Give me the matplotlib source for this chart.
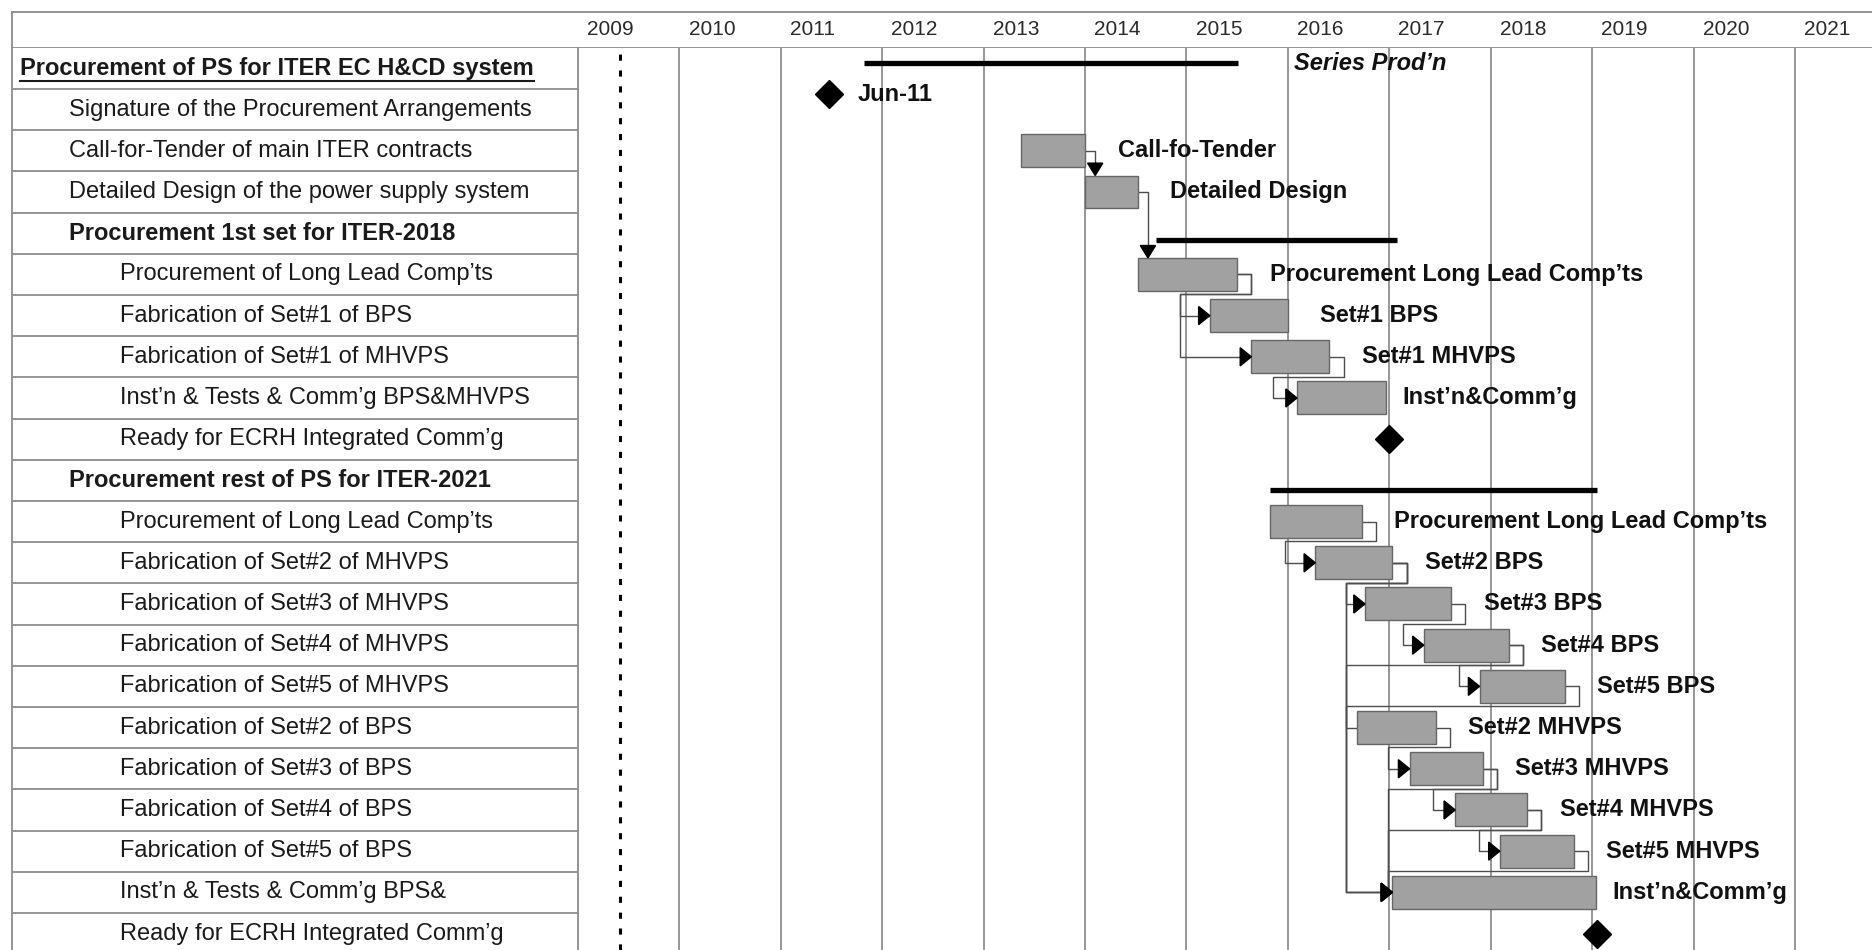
import numpy as np
import matplotlib.pyplot as plt
from matplotlib.patches import Rectangle, Polygon

plt.rcParams['font.family'] = ['Liberation Sans', 'DejaVu Sans']

# ---- data ----
tasks = ["Procurement of PS for ITER EC H&CD system",
         "Signature of the Procurement Arrangements",
         "Call-for-Tender of main ITER contracts",
         "Detailed Design of the power supply system",
         "Procurement 1st set for ITER-2018",
         "Procurement of Long Lead Comp\u2019ts",
         "Fabrication of Set#1 of BPS",
         "Fabrication of Set#1 of MHVPS",
         "Inst\u2019n & Tests & Comm\u2019g BPS&MHVPS",
         "Ready for ECRH Integrated Comm\u2019g",
         "Procurement rest of PS for ITER-2021",
         "Procurement of Long Lead Comp\u2019ts",
         "Fabrication of Set#2 of MHVPS",
         "Fabrication of Set#3 of MHVPS",
         "Fabrication of Set#4 of MHVPS",
         "Fabrication of Set#5 of MHVPS",
         "Fabrication of Set#2 of BPS",
         "Fabrication of Set#3 of BPS",
         "Fabrication of Set#4 of BPS",
         "Fabrication of Set#5 of BPS",
         "Inst\u2019n & Tests & Comm\u2019g BPS&",
         "Ready for ECRH Integrated Comm\u2019g"]
level = [0, 1, 1, 1, 1, 2, 2, 2, 2, 2, 1, 2, 2, 2, 2, 2, 2, 2, 2, 2, 2, 2]
kind = ["sum", "mile", "bar", "bar", "sum", "bar", "bar", "bar", "bar", "mile",
        "sum", "bar", "bar", "bar", "bar", "bar", "bar", "bar", "bar", "bar", "bar", "mile"]
start = [2011.82, 2011.48, 2013.37, 2014.00, 2014.70, 2014.52, 2015.23, 2015.64, 2016.09, 2017.00,
         2015.82, 2015.82, 2016.27, 2016.76, 2017.34, 2017.89, 2016.68, 2017.20, 2017.65, 2018.09,
         2017.03, 2019.05]
finish = [2015.51, 2011.48, 2014.00, 2014.52, 2017.08, 2015.50, 2016.00, 2016.41, 2016.97, 2017.00,
          2019.05, 2016.73, 2017.03, 2017.61, 2018.18, 2018.73, 2017.46, 2017.92, 2018.36, 2018.82,
          2019.04, 2019.05]
bar_text = ["Series Prod\u2019n", "Jun-11", "Call-fo-Tender", "Detailed Design", "",
            "Procurement Long Lead Comp\u2019ts", "Set#1 BPS", "Set#1 MHVPS", "Inst\u2019n&Comm\u2019g", "",
            "", "Procurement Long Lead Comp\u2019ts", "Set#2 BPS", "Set#3 BPS", "Set#4 BPS", "Set#5 BPS",
            "Set#2 MHVPS", "Set#3 MHVPS", "Set#4 MHVPS", "Set#5 MHVPS", "Inst\u2019n&Comm\u2019g", ""]
years = list(range(2009, 2022))
today = 2009.41

# links: (predecessor row, successor row, x of the vertical elbow or None for a drop-down link)
links = [(2, 3, None), (3, 5, None), (5, 6, 2014.94), (5, 7, 2014.94), (7, 8, 2015.85),
         (11, 12, 2015.97), (12, 13, 2016.57), (12, 16, 2016.57), (12, 20, 2016.57),
         (13, 14, 2017.14), (14, 15, 2017.69), (14, 20, 2016.57), (15, 20, 2016.57),
         (16, 17, 2016.99), (17, 18, 2017.43), (18, 19, 2017.88), (17, 20, 2016.99),
         (18, 20, 2016.99), (19, 20, 2016.99)]

# small vertical nudges of some marks inside their row (as drawn in the original)
row_dy = {0: -0.12, 1: -0.37, 4: 0.17, 10: 0.23}

# ---- layout ----
W, H = 1872, 950
fig = plt.figure(figsize=(W / 100, H / 100), dpi=100)
L = 12 / W
D = 578 / W
hb = 1 - 47.8 / H
top = 1 - 12 / H
grey = '#8c8c8c'
ylim = (21.4, -0.5)

ax_head = fig.add_axes([L, hb, 1 - L, top - hb])
ax_head.set_xticks([]); ax_head.set_yticks([])
for s in ['top', 'left', 'bottom']:
    ax_head.spines[s].set_color(grey); ax_head.spines[s].set_linewidth(1.3)
ax_head.spines['right'].set_visible(False)

ax_t = fig.add_axes([L, 0, D - L, hb])
ax_t.set_xlim(0, 1); ax_t.set_ylim(*ylim)
ax_t.set_xticks([]); ax_t.set_yticks([])
for s in ['top', 'right', 'bottom']:
    ax_t.spines[s].set_visible(False)
ax_t.spines['left'].set_color(grey); ax_t.spines['left'].set_linewidth(1.3)

ax = fig.add_axes([D, 0, 1 - D, hb])
ax.set_xlim(2009, 2021.76); ax.set_ylim(*ylim)
ax.set_xticks([]); ax.set_yticks([])
for s in ['top', 'right', 'bottom']:
    ax.spines[s].set_visible(False)
ax.spines['left'].set_color(grey); ax.spines['left'].set_linewidth(1.3)

# table
indent_x = [0.015, 0.101, 0.19]
fs = 17
for i, name in enumerate(tasks):
    ax_t.axhline(i + 0.5, color=grey, lw=1.3)
    is_bold = kind[i] == "sum"
    t = ax_t.text(indent_x[level[i]], i, name, ha='left', va='center', fontsize=fs,
                  fontweight='bold' if is_bold else 'normal', color='#1a1a1a')
    if i == 0:
        fig.canvas.draw()
        bb = t.get_window_extent().transformed(ax_t.transAxes.inverted())
        ax_t.plot([bb.x0, bb.x1], [0.3, 0.3], color='#1a1a1a', lw=1.5)

# header years
for y in years:
    ax.text(y + 0.09, (1 + (top - hb) / 2 / hb), str(y), transform=ax.get_xaxis_transform(),
            ha='left', va='center', fontsize=15, color='#2a2a2a', clip_on=False)

# gridlines
for y in years[1:]:
    ax.axvline(y, color='#7a7a7a', lw=1.1, zorder=1)
ax.axvline(today, color='black', lw=2.2, ls=(0, (2, 3.2)), zorder=2)

bh = 0.8
hook = 0.14
lk = dict(color='#4d4d4d', lw=1.0, zorder=3)


def right_arrow(x, y):
    ax.add_patch(Polygon([[x, y], [x - 0.11, y - 0.22], [x - 0.11, y + 0.22]],
                         closed=True, color='black', zorder=6))


def down_arrow(x, y):
    ax.add_patch(Polygon([[x, y], [x - 0.075, y - 0.3], [x + 0.075, y - 0.3]],
                         closed=True, color='black', zorder=6))


for p, s, xe in links:
    if xe is None:
        xv = start[s] + 0.1
        ax.plot([finish[p], xv, xv], [p, p, s - bh / 2 - 0.05], **lk)
        down_arrow(xv, s - bh / 2)
    else:
        xh = finish[p] + hook
        ax.plot([finish[p], xh, xh, xe, xe, start[s]], [p, p, p + 0.48, p + 0.48, s, s], **lk)
        if start[s] - xe > 0.15:
            right_arrow(start[s], s)

# tasks
for i in range(len(tasks)):
    yy = i + row_dy.get(i, 0)
    if kind[i] == "bar":
        ax.add_patch(Rectangle((start[i], i - bh / 2), finish[i] - start[i], bh,
                               facecolor='#a1a1a1', edgecolor='#666666', lw=1.0, zorder=5))
        gap = 0.16 if bar_text[i].startswith("Inst") else 0.32
        ax.text(finish[i] + gap, i, bar_text[i], ha='left', va='center', fontsize=fs,
                fontweight='bold', color='#111111', zorder=7)
    elif kind[i] == "sum":
        ax.plot([start[i], finish[i]], [yy, yy], color='black', lw=3.8,
                solid_capstyle='butt', zorder=5)
        if bar_text[i]:
            ax.text(finish[i] + 0.55, yy, bar_text[i], ha='left', va='center', fontsize=fs,
                    fontweight='bold', fontstyle='italic', color='#111111', zorder=7)
    else:
        ax.plot([start[i]], [yy], marker='D', ms=14, color='black', zorder=6)
        if bar_text[i]:
            ax.text(finish[i] + 0.28, yy, bar_text[i], ha='left', va='center', fontsize=fs,
                    fontweight='bold', color='#111111', zorder=7)

fig.savefig('out.png', dpi=100)
